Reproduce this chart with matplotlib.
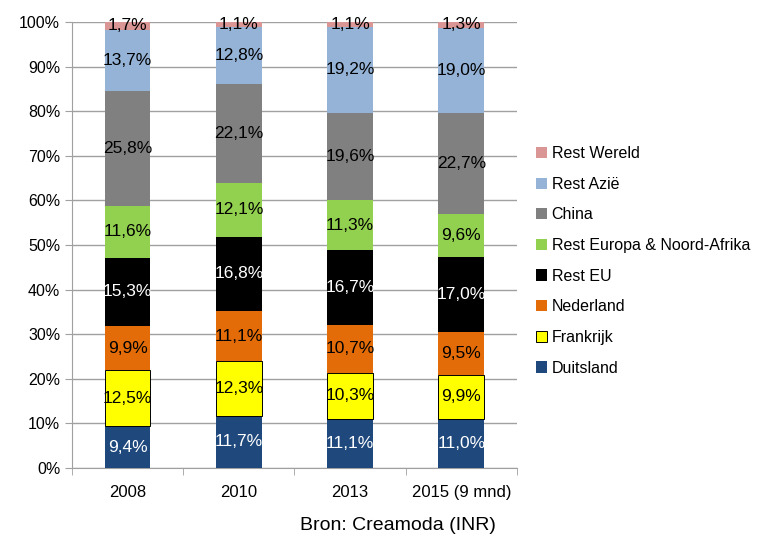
import numpy as np
import matplotlib
matplotlib.use('Agg')
import matplotlib.pyplot as plt

plt.rcParams['font.family'] = ['Liberation Sans Narrow', 'Liberation Sans', 'DejaVu Sans']

years = ['2008', '2010', '2013', '2015 (9 mnd)']
series = ['Duitsland', 'Frankrijk', 'Nederland', 'Rest EU',
          'Rest Europa & Noord-Afrika', 'China', 'Rest Azië', 'Rest Wereld']
duitsland = [9.4, 11.7, 11.1, 11.0]
frankrijk = [12.5, 12.3, 10.3, 9.9]
nederland = [9.9, 11.1, 10.7, 9.5]
rest_eu = [15.3, 16.8, 16.7, 17.0]
rest_europa = [11.6, 12.1, 11.3, 9.6]
china = [25.8, 22.1, 19.6, 22.7]
rest_azie = [13.7, 12.8, 19.2, 19.0]
rest_wereld = [1.7, 1.1, 1.1, 1.3]

values = [duitsland, frankrijk, nederland, rest_eu, rest_europa, china, rest_azie, rest_wereld]
colors = ['#1F497D', '#FFFF00', '#E36C09', '#000000', '#92D050', '#808080', '#95B3D7', '#D99694']
txtcol = ['white', 'black', 'black', 'white', 'black', 'black', 'black', 'black']

fig = plt.figure(figsize=(7.71, 5.4), dpi=100)
ax = fig.add_axes([0.0934, 0.1333, 0.577, 0.826])

x = np.arange(len(years))
data = np.array(values)
data = data / data.sum(axis=0) * 100
bottom = np.zeros(len(years))
for i, name in enumerate(series):
    edge = 'black' if name == 'Frankrijk' else 'none'
    ax.bar(x, data[i], 0.41, bottom=bottom, color=colors[i], edgecolor=edge,
           linewidth=0.7, label=name, zorder=3)
    for j in range(len(years)):
        lab = ('%.1f%%' % values[i][j]).replace('.', ',')
        ax.text(x[j], bottom[j] + data[i][j] / 2, lab, ha='center', va='center',
                fontsize=12.5, color=txtcol[i], zorder=4)
    bottom += data[i]

ax.set_xlim(-0.5, len(years) - 0.5)
ax.set_ylim(0, 100)
ax.set_yticks(np.arange(0, 101, 10))
ax.set_yticklabels(['%d%%' % v for v in range(0, 101, 10)], fontsize=11.5)
ax.set_xticks(x)
ax.set_xticklabels(years, fontsize=12)
ax.set_xticks(np.arange(-0.5, len(years), 1), minor=True)
ax.tick_params(axis='x', which='major', length=0, pad=12)
ax.tick_params(axis='x', which='minor', length=5, color='#A0A0A0')
ax.tick_params(axis='y', length=5, color='#A0A0A0')
ax.grid(axis='y', color='#A0A0A0', linewidth=1, zorder=0)
for s in ['top', 'right']:
    ax.spines[s].set_visible(False)
ax.spines['left'].set_color('#A0A0A0')
ax.spines['bottom'].set_color('#A0A0A0')

h, l = ax.get_legend_handles_labels()
fig.legend(h[::-1], l[::-1], loc='center left', bbox_to_anchor=(0.676, 0.517),
           frameon=False, fontsize=11.5, handlelength=0.7, handleheight=0.7,
           handletextpad=0.3, labelspacing=0.98)

fig.text(0.389, 0.027, 'Bron: Creamoda (INR)', fontsize=14, ha='left', va='center')

fig.savefig('out.png', dpi=100)
